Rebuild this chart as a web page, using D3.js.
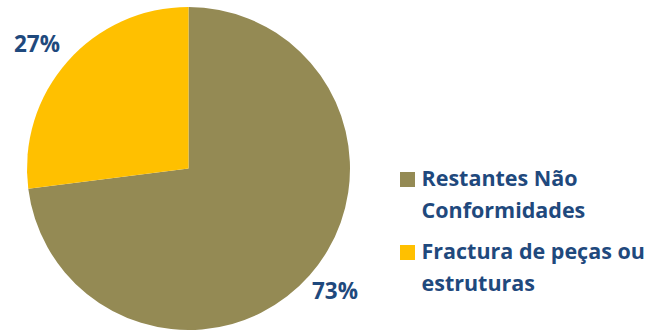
<!DOCTYPE html>
<html>
<head>
<meta charset="utf-8">
<script src="https://cdn.jsdelivr.net/npm/d3@7"></script>
<style>
  html, body { margin: 0; padding: 0; background: #fff; }
  svg { display: block; font-family: "Open Sans", Lato, sans-serif; }
</style>
</head>
<body>
<svg id="chart" width="653" height="331"></svg>
<script>
// Share of non-conformities by type
const categories = ["Restantes Não Conformidades", "Fractura de peças ou estruturas"];
const legendLines = [["Restantes Não", "Conformidades"], ["Fractura de peças ou", "estruturas"]];
const values = [73, 27];
const valueLabels = ["73%", "27%"];
const colors = ["#948A54", "#FFC000"];

const svg = d3.select("#chart");
const cx = 188.5, cy = 168.5, r = 161.5;
const textColor = "#1F497D";

const pie = d3.pie().sort(null).value(d => d)(values);
const arc = d3.arc().innerRadius(0).outerRadius(r);

const g = svg.append("g").attr("transform", `translate(${cx},${cy})`);
g.selectAll("path.slice")
  .data(pie)
  .join("path")
  .attr("class", "slice")
  .attr("d", arc)
  .attr("fill", (d, i) => colors[i]);

// Value labels placed just outside the pie
const labelPos = [[146.5, 130.5], [-151.5, -116.5]];
g.selectAll("text.val")
  .data(pie)
  .join("text")
  .attr("class", "val")
  .attr("x", (d, i) => labelPos[i][0])
  .attr("y", (d, i) => labelPos[i][1])
  .attr("text-anchor", "middle")
  .attr("fill", textColor)
  .attr("font-size", 22.5)
  .attr("font-weight", "bold")
  .text((d, i) => valueLabels[i]);

// Legend
const legend = svg.append("g").attr("transform", "translate(400,0)");
const rowY = [172, 245];
categories.forEach((c, i) => {
  const row = legend.append("g").attr("transform", `translate(0,${rowY[i]})`);
  row.append("rect").attr("width", 15).attr("height", 15).attr("fill", colors[i]);
  legendLines[i].forEach((line, j) => {
    row.append("text")
      .attr("x", 21.5)
      .attr("y", 14 + j * 32)
      .attr("fill", textColor)
      .attr("font-size", 21.5)
      .attr("font-weight", "bold")
      .text(line);
  });
});
</script>
</body>
</html>
